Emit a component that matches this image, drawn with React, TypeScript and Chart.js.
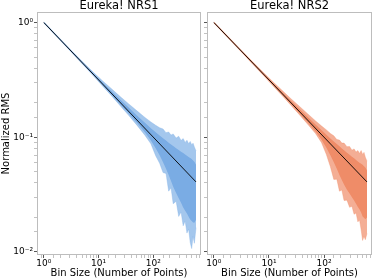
import React, { useEffect, useRef } from 'react';
import { Chart, registerables } from 'chart.js';

Chart.register(...registerables);

// ---- data ----
const binSizes = [1, 2, 3, 5, 8, 12, 18, 25, 35, 50, 70, 90, 110, 130, 150, 170, 190, 210, 230, 260, 290, 320, 350, 380, 410, 440, 470, 500, 530, 560, 600];

const nrs1OuterUpper = [1.014, 0.7188, 0.588, 0.4597, 0.3684, 0.3079, 0.2596, 0.2254, 0.1963, 0.17, 0.1488, 0.1358, 0.1271, 0.1211, 0.118, 0.1096, 0.1111, 0.1044, 0.1069, 0.0983, 0.102, 0.0938, 0.0973, 0.0902, 0.0941, 0.0878, 0.092, 0.0862, 0.0887, 0.0824, 0.076];
const nrs1OuterLower = [0.9863, 0.696, 0.5667, 0.437, 0.3432, 0.277, 0.2241, 0.1875, 0.156, 0.1275, 0.1041, 0.0877, 0.0691, 0.0593, 0.0492, 0.0484, 0.0339, 0.0362, 0.0263, 0.0277, 0.0204, 0.0223, 0.0169, 0.0186, 0.0146, 0.0158, 0.0121, 0.0107, 0.0137, 0.0119, 0.0163];
const nrs1InnerUpper = [1.007, 0.7138, 0.5827, 0.4534, 0.3611, 0.2981, 0.2468, 0.2123, 0.1824, 0.155, 0.1335, 0.1199, 0.1105, 0.1035, 0.0982, 0.0935, 0.0897, 0.0865, 0.0838, 0.0803, 0.0774, 0.0749, 0.0728, 0.0708, 0.0691, 0.0674, 0.0659, 0.0646, 0.0628, 0.0611, 0.0577];
const nrs1InnerLower = [0.9931, 0.7008, 0.5719, 0.442, 0.3479, 0.2821, 0.2293, 0.1932, 0.1618, 0.1335, 0.1103, 0.0939, 0.0802, 0.0697, 0.0605, 0.0531, 0.0468, 0.0416, 0.0371, 0.0326, 0.0294, 0.0268, 0.0244, 0.0229, 0.0216, 0.0203, 0.0192, 0.0186, 0.0181, 0.018, 0.0191];

const nrs2OuterUpper = [1.014, 0.7188, 0.588, 0.4576, 0.3653, 0.3022, 0.2514, 0.2168, 0.1875, 0.1605, 0.1388, 0.1253, 0.1159, 0.1079, 0.1028, 0.0954, 0.0945, 0.0889, 0.089, 0.0827, 0.083, 0.0772, 0.0791, 0.0742, 0.0765, 0.0722, 0.0766, 0.0709, 0.0738, 0.067, 0.0618];
const nrs2OuterLower = [0.9863, 0.696, 0.5667, 0.437, 0.344, 0.2788, 0.2261, 0.1901, 0.1589, 0.1305, 0.1078, 0.0897, 0.0707, 0.0553, 0.0429, 0.0431, 0.0339, 0.0346, 0.0281, 0.0283, 0.0245, 0.025, 0.0213, 0.0219, 0.0183, 0.019, 0.0156, 0.0126, 0.0137, 0.0128, 0.0145];
const nrs2InnerUpper = [1.007, 0.7138, 0.5827, 0.4524, 0.3594, 0.2954, 0.2434, 0.2084, 0.1782, 0.1509, 0.129, 0.1151, 0.1053, 0.0977, 0.092, 0.0873, 0.0833, 0.0799, 0.0771, 0.0733, 0.0703, 0.0677, 0.0655, 0.0634, 0.0616, 0.06, 0.0587, 0.0576, 0.056, 0.0544, 0.0514];
const nrs2InnerLower = [0.9931, 0.7008, 0.5719, 0.442, 0.3487, 0.2834, 0.2304, 0.1945, 0.1633, 0.135, 0.1121, 0.095, 0.0811, 0.0697, 0.0605, 0.0531, 0.0468, 0.0425, 0.0388, 0.0349, 0.0323, 0.03, 0.0281, 0.0263, 0.0247, 0.0234, 0.0221, 0.0204, 0.0199, 0.0193, 0.02];

const modelBins = [1, 600];
const modelRms = [1, 0.0408];

const panelTitles = ['Eureka! NRS1', 'Eureka! NRS2'];
const xLabel = 'Bin Size (Number of Points)';
const yLabel = 'Normalized RMS';
const xTickValues = [1, 10, 100];
const xTickLabels = ['10\u2070', '10\u00b9', '10\u00b2'];
const yTickValues = [0.01, 0.1, 1];
const yTickLabels = ['10\u207b\u00b2', '10\u207b\u00b9', '10\u2070'];

const X_MIN = 0.75;
const X_MAX = 740;
const Y_MIN = 0.00941;
const Y_MAX = 1.235;

const FONT = "'DejaVu Sans', sans-serif";

function labelFor(value: number, vals: number[], labels: string[]) {
  for (let i = 0; i < vals.length; i++) {
    if (Math.abs(value / vals[i] - 1) < 1e-6) return labels[i];
  }
  return '';
}
function isPow10(v: number) {
  const l = Math.log10(v);
  return Math.abs(l - Math.round(l)) < 1e-6;
}

const spinePlugin = {
  id: 'spines',
  afterDatasetsDraw(chart: any) {
    const { ctx, chartArea } = chart;
    const l = Math.round(chartArea.left) + 0.5;
    const t = Math.round(chartArea.top) + 0.5;
    const r = Math.round(chartArea.right) - 0.5;
    const b = Math.round(chartArea.bottom) - 0.5;
    ctx.save();
    ctx.strokeStyle = '#bdbdbd';
    ctx.lineWidth = 1;
    ctx.strokeRect(l, t, r - l, b - t);
    ctx.restore();
  },
};

type PanelProps = {
  title: string;
  outerUpper: number[];
  outerLower: number[];
  innerUpper: number[];
  innerLower: number[];
  outerColor: string;
  innerColor: string;
  showY: boolean;
  yWidth: number;
  padRight: number;
};

function Panel(p: PanelProps) {
  const ref = useRef<HTMLCanvasElement | null>(null);
  useEffect(() => {
    if (!ref.current) return;
    const pts = (arr: number[]) => binSizes.map((n, i) => ({ x: n, y: arr[i] }));
    const chart = new Chart(ref.current, {
      type: 'line',
      data: {
        datasets: [
          { data: pts(p.outerUpper), borderColor: p.outerColor, borderWidth: 0.5, backgroundColor: p.outerColor, fill: '+1', pointRadius: 0, order: 3 },
          { data: pts(p.outerLower), borderColor: p.outerColor, borderWidth: 0.5, backgroundColor: p.outerColor, fill: false, pointRadius: 0, order: 3 },
          { data: pts(p.innerUpper), borderColor: p.innerColor, borderWidth: 0, backgroundColor: p.innerColor, fill: '+1', pointRadius: 0, order: 2 },
          { data: pts(p.innerLower), borderColor: p.innerColor, borderWidth: 0, backgroundColor: p.innerColor, fill: false, pointRadius: 0, order: 2 },
          { data: modelBins.map((n, i) => ({ x: n, y: modelRms[i] })), borderColor: '#000000', borderWidth: 0.9, fill: false, pointRadius: 0, order: 0 },
        ],
      },
      options: {
        animation: false,
        responsive: true,
        maintainAspectRatio: false,
        layout: { padding: { left: 0, right: p.padRight, top: 0, bottom: 0 } },
        plugins: {
          legend: { display: false },
          tooltip: { enabled: false },
          title: {
            display: true,
            text: p.title,
            fullSize: false,
            color: '#000',
            font: { family: FONT, size: 11.5, lineHeight: 1, weight: 'normal' },
            padding: { top: 0, bottom: 0.5 },
          },
        },
        scales: {
          x: {
            type: 'logarithmic',
            min: X_MIN,
            max: X_MAX,
            afterBuildTicks: (scale: any) => {
              scale.ticks = scale.ticks.filter((t: any) => t.value > X_MIN * 1.001 && t.value < X_MAX * 0.999);
            },
            afterFit: (scale: any) => { scale.height = 25; },
            border: { display: false },
            grid: {
              drawOnChartArea: false,
              drawTicks: true,
              tickLength: 3,
              tickColor: (ctx: any) => (ctx.tick && isPow10(ctx.tick.value) ? '#444' : '#999'),
              tickWidth: (ctx: any) => (ctx.tick && isPow10(ctx.tick.value) ? 0.9 : 0.6),
            },
            ticks: {
              autoSkip: false,
              maxRotation: 0,
              minRotation: 0,
              padding: 0,
              color: '#000',
              font: { family: FONT, size: 9 },
              callback: (v: any) => labelFor(Number(v), xTickValues, xTickLabels),
            },
            title: {
              display: true,
              text: xLabel,
              color: '#000',
              font: { family: FONT, size: 10, lineHeight: 1.2 },
              padding: { top: 0, bottom: 1 },
            },
          },
          y: {
            type: 'logarithmic',
            min: Y_MIN,
            max: Y_MAX,
            afterBuildTicks: (scale: any) => {
              scale.ticks = scale.ticks.filter((t: any) => t.value > Y_MIN * 1.001 && t.value < Y_MAX * 0.999);
            },
            afterFit: (scale: any) => { scale.width = p.yWidth; },
            border: { display: false },
            grid: {
              drawOnChartArea: false,
              drawTicks: true,
              tickLength: 3,
              tickColor: (ctx: any) => (ctx.tick && isPow10(ctx.tick.value) ? '#444' : '#999'),
              tickWidth: (ctx: any) => (ctx.tick && isPow10(ctx.tick.value) ? 0.9 : 0.6),
            },
            ticks: {
              autoSkip: false,
              padding: 1,
              color: '#000',
              font: { family: FONT, size: 9 },
              callback: (v: any) => (p.showY ? labelFor(Number(v), yTickValues, yTickLabels) : ''),
            },
            title: {
              display: p.showY,
              text: yLabel,
              color: '#000',
              font: { family: FONT, size: 10, lineHeight: 1.2 },
              padding: { top: 0, bottom: 0 },
            },
          },
        },
      },
      plugins: [spinePlugin],
    } as any);
    return () => chart.destroy();
  }, []);
  return <canvas ref={ref} />;
}

export default function App() {
  return (
    <div style={{ position: 'fixed', left: 0, top: 0, width: 374, height: 280, background: '#fff' }}>
      <div style={{ position: 'absolute', left: 0, top: 0, width: 203, height: 280 }}>
        <Panel
          title={panelTitles[0]}
          outerUpper={nrs1OuterUpper}
          outerLower={nrs1OuterLower}
          innerUpper={nrs1InnerUpper}
          innerLower={nrs1InnerLower}
          outerColor="rgba(125,175,230,0.7)"
          innerColor="rgb(122,172,228)"
          showY={true}
          yWidth={37}
          padRight={2}
        />
      </div>
      <div style={{ position: 'absolute', left: 203, top: 0, width: 171, height: 280 }}>
        <Panel
          title={panelTitles[1]}
          outerUpper={nrs2OuterUpper}
          outerLower={nrs2OuterLower}
          innerUpper={nrs2InnerUpper}
          innerLower={nrs2InnerLower}
          outerColor="rgba(240,140,104,0.7)"
          innerColor="rgb(239,140,104)"
          showY={false}
          yWidth={4}
          padRight={2}
        />
      </div>
    </div>
  );
}
